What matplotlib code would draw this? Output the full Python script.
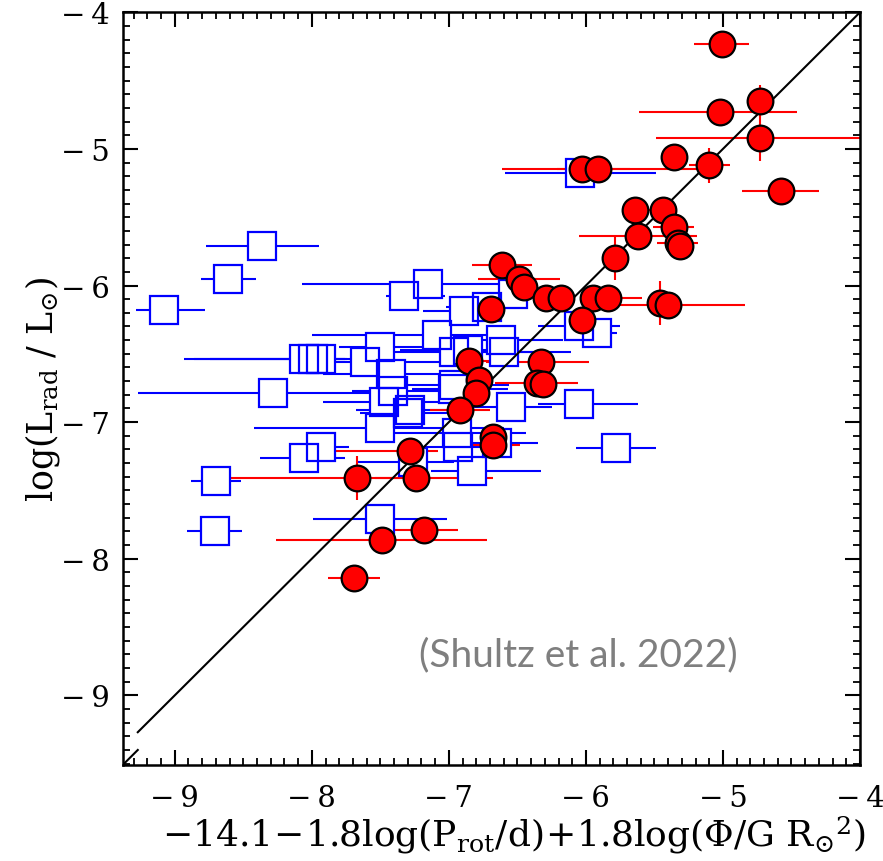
import matplotlib
matplotlib.use("Agg")
import matplotlib.pyplot as plt
from matplotlib.ticker import MultipleLocator

plt.rcParams['font.family'] = ['DejaVu Serif']
plt.rcParams['mathtext.fontset'] = 'dejavuserif'

# ---- red circles (x, y, asymmetric x errors, y errors) ----
red_x = [-5.01, -5.02, -4.73, -4.73, -4.58, -5.36, -5.10, -6.03, -5.91, -5.64,
         -5.44, -5.36, -5.33, -5.31, -5.62, -5.79, -6.61, -6.49, -6.45, -6.29,
         -6.18, -5.95, -5.84, -5.46, -5.40, -6.03, -6.69, -6.85, -6.78, -6.80,
         -6.92, -6.33, -6.36, -6.31, -6.68, -6.68, -7.28, -7.24, -7.18, -7.67,
         -7.49, -7.69]
red_y = [-4.23, -4.73, -4.65, -4.92, -5.31, -5.06, -5.12, -5.15, -5.15, -5.45,
         -5.45, -5.57, -5.69, -5.71, -5.64, -5.80, -5.85, -5.95, -6.01, -6.09,
         -6.09, -6.09, -6.09, -6.13, -6.14, -6.25, -6.17, -6.55, -6.69, -6.79,
         -6.91, -6.56, -6.71, -6.72, -7.11, -7.17, -7.21, -7.41, -7.79, -7.41,
         -7.86, -8.14]
red_xlo = [0.20, 0.59, 0.00, 0.76, 0.28, 0.00, 0.15, 0.58, 0.30, 0.00,
           0.10, 0.15, 0.15, 0.00, 0.43, 0.00, 0.22, 0.30, 0.00, 0.05,
           0.00, 0.00, 0.00, 0.00, 0.35, 0.00, 0.00, 0.20, 0.00, 0.00,
           0.22, 0.40, 0.30, 0.00, 0.00, 0.20, 0.55, 0.30, 0.25, 0.93,
           0.77, 0.19]
red_xhi = [0.20, 0.56, 0.00, 0.76, 0.28, 0.00, 0.15, 0.35, 0.72, 0.00,
           0.10, 0.15, 0.15, 0.00, 0.43, 0.00, 0.22, 0.30, 0.00, 0.05,
           0.00, 0.00, 0.25, 0.00, 0.56, 0.00, 0.00, 0.20, 0.00, 0.00,
           0.22, 0.35, 0.30, 0.00, 0.00, 0.20, 0.20, 0.56, 0.25, 0.50,
           0.77, 0.19]
red_yerr = [0.00, 0.00, 0.12, 0.17, 0.00, 0.00, 0.13, 0.00, 0.00, 0.00,
            0.03, 0.00, 0.00, 0.00, 0.04, 0.16, 0.05, 0.00, 0.00, 0.03,
            0.00, 0.00, 0.00, 0.16, 0.00, 0.00, 0.00, 0.00, 0.00, 0.00,
            0.00, 0.00, 0.00, 0.00, 0.00, 0.00, 0.00, 0.00, 0.00, 0.16,
            0.00, 0.00]

# ---- blue open squares ----
blue_x = [-8.36, -8.61, -9.08, -7.15, -7.33, -6.04, -7.09, -7.93, -8.06, -7.99,
          -8.28, -7.50, -7.61, -7.42, -7.41, -7.47, -7.30, -7.50, -7.93, -8.06,
          -8.70, -8.71, -7.50, -6.96, -6.97, -6.53, -6.89, -6.62, -6.60, -6.86,
          -6.05, -5.92, -6.05, -5.78, -6.55, -6.83, -6.96, -7.28, -6.94, -6.93,
          -6.65, -7.26, -6.72]
blue_y = [-5.71, -5.95, -6.18, -5.99, -6.08, -5.18, -6.36, -6.54, -6.54, -6.54,
          -6.79, -6.45, -6.56, -6.65, -6.77, -6.85, -6.93, -7.04, -7.18, -7.26,
          -7.43, -7.80, -7.71, -6.49, -6.76, -6.06, -6.19, -6.40, -6.49, -6.47,
          -6.30, -6.35, -6.87, -7.19, -6.89, -7.36, -6.73, -6.91, -7.08, -7.18,
          -7.15, -7.29, -6.16]
blue_xlo = [0.41, 0.20, 0.20, 0.92, 0.13, 0.55, 0.91, 1.00, 0.80, 0.75,
            0.99, 0.30, 0.40, 0.50, 0.30, 0.45, 0.35, 0.92, 0.20, 0.32,
            0.18, 0.20, 0.49, 0.50, 0.30, 0.30, 0.30, 0.50, 0.40, 0.50,
            0.30, 0.15, 0.30, 0.29, 0.30, 0.30, 0.50, 0.40, 0.60, 0.30,
            0.30, 0.40, 0.30]
blue_xhi = [0.41, 0.20, 0.30, 0.67, 0.30, 0.55, 0.50, 0.35, 0.30, 0.25,
            0.80, 0.50, 0.60, 0.60, 0.40, 0.50, 0.45, 0.90, 0.20, 0.30,
            0.18, 0.20, 0.49, 0.60, 0.40, 0.20, 0.30, 0.45, 0.49, 0.30,
            0.30, 0.15, 0.43, 0.29, 0.30, 0.50, 0.40, 0.30, 0.50, 0.20,
            0.30, 0.30, 0.30]

# one-to-one reference line
line_x = [-9.27, -4.0]
corner_x = [-9.38, -9.27]
corner_y = [-9.51, -9.40]

x_lim = (-9.38, -4.0)
y_lim = (-9.51, -4.0)
x_ticks = [-9, -8, -7, -6, -5, -4]
y_ticks = [-9, -8, -7, -6, -5, -4]
x_tick_labels = ['\u2212\u20099', '\u2212\u20098', '\u2212\u20097',
                 '\u2212\u20096', '\u2212\u20095', '\u2212\u20094']
y_tick_labels = ['\u2212\u20099', '\u2212\u20098', '\u2212\u20097',
                 '\u2212\u20096', '\u2212\u20095', '\u2212\u20094']

fig = plt.figure(figsize=(8.83, 8.62), dpi=100)
ax = fig.add_axes([122.7 / 883, 96 / 862, 737.3 / 883, 752.7 / 862])

ax.errorbar(blue_x, blue_y, xerr=[blue_xlo, blue_xhi], fmt='none',
            ecolor='#0000ff', elinewidth=1.5, capsize=0, zorder=2)
ax.errorbar(red_x, red_y, xerr=[red_xlo, red_xhi], yerr=red_yerr, fmt='none',
            ecolor='#ff0000', elinewidth=1.5, capsize=0, zorder=2.5)
ax.plot(blue_x, blue_y, 's', ms=19.5, mfc='white', mec='none', zorder=3)
ax.plot(blue_x, blue_y, 's', ms=19.5, mfc='none', mec='#0000ff', mew=1.6,
        zorder=3.5)
ax.plot(line_x, line_x, '-', color='black', lw=1.5, zorder=3.7)
ax.plot(corner_x, corner_y, '-', color='black', lw=1.5, zorder=3.7)
ax.plot(red_x, red_y, 'o', ms=18.5, mfc='#ff0000', mec='black', mew=1.6,
        zorder=4)

ax.set_xlim(*x_lim)
ax.set_ylim(*y_lim)
ax.set_xticks(x_ticks)
ax.set_xticklabels(x_tick_labels)
ax.set_yticks(y_ticks)
ax.set_yticklabels(y_tick_labels)
ax.xaxis.set_minor_locator(MultipleLocator(0.1))
ax.yaxis.set_minor_locator(MultipleLocator(0.1))
ax.tick_params(which='both', direction='in', top=True, right=True)
ax.tick_params(which='major', length=10.5, width=1.5, labelsize=21)
ax.tick_params(which='minor', length=5.2, width=1.3)
ax.tick_params(axis='x', which='major', pad=14)
ax.tick_params(axis='y', which='major', pad=9)
for s in ax.spines.values():
    s.set_linewidth(1.8)

ax.set_xlabel(r'$\mathrm{-14.1\!-\!1.8log(P_{rot}/d)\!+\!1.8log(\Phi/G\ R_{\odot}{}^{2})}$',
              fontsize=26)
ax.xaxis.set_label_coords(0.53, -0.064)
ax.set_ylabel(r'$\mathrm{log(L_{rad}\ /\ L_{\odot})}$', fontsize=25)
ax.yaxis.set_label_coords(-0.083, 0.5)

ax.text(0.6175, 0.147, '(Shultz et al. 2022)', transform=ax.transAxes,
        ha='center', va='center', fontsize=28, color='#7f7f7f',
        family=['Lato', 'DejaVu Sans'], zorder=5)

fig.savefig('out.png', dpi=100)
